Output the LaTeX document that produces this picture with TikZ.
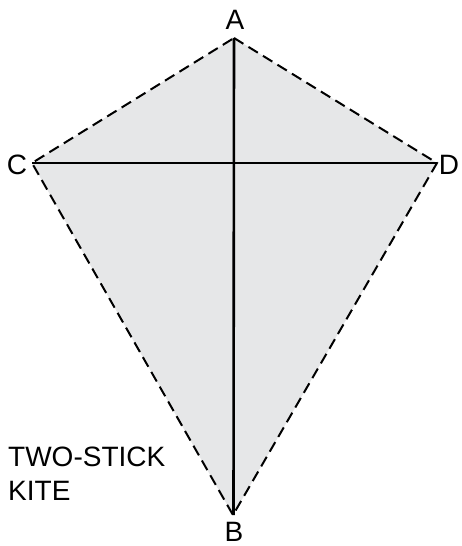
\documentclass[tikz,border=0pt]{standalone}
\usepackage{fontspec}
\setmainfont{Liberation Sans}
\begin{document}
\begin{tikzpicture}[x=1pt,y=-1pt,
  lbl/.style={font=\fontsize{28}{30}\selectfont, inner sep=0pt, anchor=base},
  edge/.style={draw=black, line width=2pt, dash pattern=on 11pt off 6pt},
  stick/.style={draw=black, line width=2.6pt}]
\useasboundingbox (0,0) rectangle (461,546);
\coordinate (A) at (234,38);
\coordinate (B) at (233,515);
\coordinate (C) at (32,163);
\coordinate (D) at (437,163);
\fill[fill={rgb,255:red,230;green,231;blue,232}] (A) -- (D) -- (B) -- (C) -- cycle;
\draw[edge] (A) -- (D) -- (B) -- (C) -- cycle;
\draw[stick] (A) -- (233.5,515);
\draw[stick] (C) -- (D);
\node[lbl] (la) at (235,29) {A};
\node[lbl] (lb) at (234,541) {B};
\node[lbl] (lc) at (17,174) {C};
\node[lbl] (ld) at (449,174) {D};
\node[lbl, anchor=base west] (t1) at (8,466) {TWO-STICK};
\node[lbl, anchor=base west] (t2) at (8,500) {KITE};
\end{tikzpicture}
\end{document}
